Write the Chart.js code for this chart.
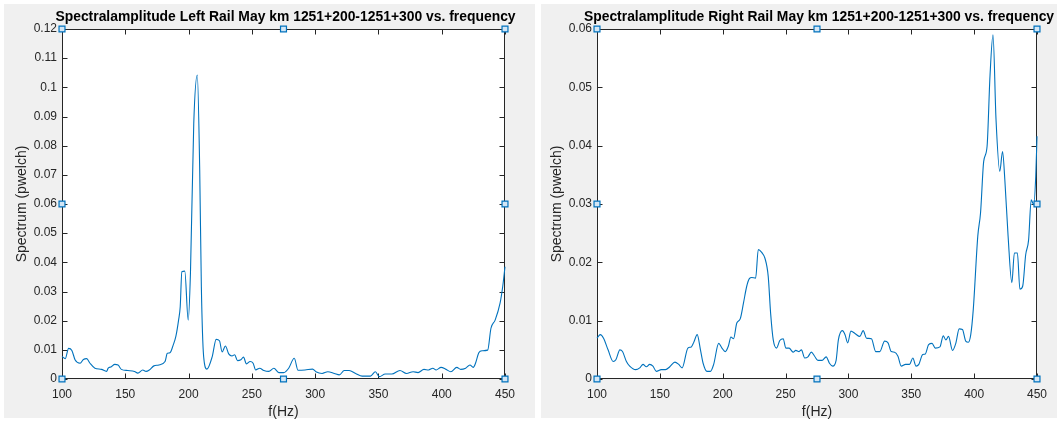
<!DOCTYPE html>
<html>
<head>
<meta charset="utf-8">
<title>Spectralamplitude May km 1251+200-1251+300</title>
<script src="https://cdn.jsdelivr.net/npm/chart.js@4.4.1/dist/chart.umd.min.js"></script>
<style>
  html, body { margin: 0; padding: 0; background: #fff; }
  body { width: 1057px; height: 423px; position: relative; overflow: hidden; }
  .panel { position: absolute; top: 4px; height: 414px; background: #f0f0f0; }
  .panel canvas { position: absolute; left: 0; top: 0; }
</style>
</head>
<body>
<div class="panel" style="left:4px;width:531px"><canvas id="left-rail" width="531" height="419"></canvas></div>
<div class="panel" style="left:541px;width:516px"><canvas id="right-rail" width="516" height="419"></canvas></div>
<script>
// pwelch spectra, left rail
const leftFreq = [100, 102.6, 105.2, 107.8, 110.4, 114.3, 116.9, 119.5, 122.1, 126, 131.2, 135.2, 136.5, 139, 141.7,
  144.3, 146.9, 152, 157.3, 159.9, 163.8, 166.4, 169, 172.6, 176.5, 181.4, 183.2, 185.3, 187.9, 190, 192.1, 193.4,
  194.7, 197, 199.7, 201.5, 204.1, 206.9, 208.8, 210.1, 211.9, 214.5, 218.7, 221.8, 224.4, 226.5, 229.1, 231.7,
  234.3, 236.4, 238.7, 241.3, 243.4, 245.7, 248.6, 251, 253, 256.2, 259.5, 263.4, 267.4, 271.3, 275.2, 279.1, 283.5,
  286.5, 292, 298, 300.6, 305.5, 310, 315.2, 319.1, 323, 326.9, 332, 337.2, 343.7, 347.6, 350.7, 355.4, 360.6,
  367, 372.2, 377.4, 381.3, 386, 389.6, 393, 395.6, 399.5, 403.4, 407.2, 411.9, 415, 418.9, 422.3, 424.9, 426.7,
  429.3, 431.9, 436.3, 438.9, 442.2, 446.1, 448.2, 450];
const leftAmp = [0.0077, 0.007, 0.0105, 0.0098, 0.0065, 0.0054, 0.0067, 0.007, 0.0054, 0.0037, 0.0033, 0.0026, 0.0037,
  0.0042, 0.005, 0.0048, 0.0033, 0.0029, 0.0026, 0.002, 0.0031, 0.0026, 0.0031, 0.0045, 0.0048, 0.006, 0.0088, 0.009,
  0.0117, 0.0147, 0.0202, 0.0248, 0.0368, 0.037, 0.0202, 0.0365, 0.0877, 0.1042, 0.0717, 0.0316, 0.0077, 0.0034,
  0.0077, 0.0136, 0.0131, 0.0093, 0.0113, 0.0086, 0.0079, 0.0083, 0.0063, 0.0066, 0.0075, 0.0052, 0.006, 0.0054,
  0.0031, 0.0037, 0.0029, 0.0026, 0.0037, 0.0022, 0.0022, 0.0037, 0.0071, 0.003, 0.0031, 0.0034, 0.0025, 0.0019,
  0.0025, 0.0019, 0.0014, 0.0029, 0.0029, 0.0019, 0.001, 0.001, 0.0025, 0.0008, 0.0017, 0.0017, 0.0029, 0.0019,
  0.0025, 0.0022, 0.0033, 0.0031, 0.0037, 0.0031, 0.004, 0.0033, 0.0025, 0.004, 0.0033, 0.0037, 0.0048, 0.004,
  0.0054, 0.009, 0.0097, 0.0099, 0.0174, 0.0202, 0.026, 0.0317, 0.0385];

// pwelch spectra, right rail
const rightFreq = [100, 102.6, 105.2, 108.8, 112.9, 115, 118.2, 120.3, 123.4, 126, 130.8, 134, 136.6, 139.3, 141.9,
  144.5, 147.2, 151.1, 154.5, 157.9, 162, 165, 167.7, 172.3, 175, 177, 179.7, 182.3, 184.4, 187.5, 190.2, 192.8,
  196.8, 199.4, 202, 204.6, 206.5, 208.6, 211.2, 213.9, 216.5, 219.1, 221.2, 223.1, 226.2, 228.3, 231, 233.6, 236.2,
  238.1, 240.2, 242.8, 245.4, 248.1, 250.2, 252.8, 256, 258.1, 260.7, 262.6, 265.2, 267.8, 270.5, 273.1, 275.7, 279,
  282.3, 284.9, 287.5, 290.2, 292, 295.2, 297.3, 299.4, 302, 305.2, 309.1, 311.7, 314.4, 318.3, 321.7, 324.9, 328.8,
  331.5, 334.1, 336.7, 339.4, 342, 345.4, 348.6, 351.2, 353.8, 356, 359.1, 361.2, 363.8, 366.5, 369.1, 372.8, 375.4,
  377.5, 379.6, 382.8, 385.4, 388.1, 390.7, 393.3, 395.4, 397.3, 399.3, 402.9, 405.1, 407.6, 410.3, 412.6, 415, 417.4,
  420.4, 422.6, 424.4, 427, 430, 432, 434.4, 436.4, 438.6, 441, 443.3, 445.4, 447.4, 449, 450];
const rightAmp = [0.007, 0.0076, 0.007, 0.005, 0.003, 0.0033, 0.005, 0.0047, 0.003, 0.0022, 0.0016, 0.0019, 0.0025,
  0.0021, 0.0025, 0.0022, 0.0013, 0.0016, 0.0016, 0.0021, 0.0029, 0.0025, 0.0019, 0.0053, 0.0055, 0.0063, 0.0076,
  0.005, 0.0027, 0.0013, 0.0013, 0.0025, 0.0061, 0.0053, 0.0047, 0.0057, 0.0072, 0.0069, 0.0096, 0.0103, 0.013,
  0.0159, 0.0172, 0.0174, 0.0173, 0.0222, 0.0217, 0.0207, 0.0176, 0.0113, 0.0067, 0.0053, 0.0066, 0.0069, 0.0053,
  0.0053, 0.0046, 0.0049, 0.0047, 0.005, 0.0036, 0.0038, 0.0046, 0.0039, 0.0032, 0.0032, 0.0038, 0.0027, 0.0022,
  0.0032, 0.0067, 0.0083, 0.0076, 0.0062, 0.0082, 0.0078, 0.0073, 0.0083, 0.007, 0.0069, 0.0047, 0.0047, 0.0065,
  0.0062, 0.0047, 0.0046, 0.0039, 0.0022, 0.0025, 0.0025, 0.0036, 0.0022, 0.0025, 0.0042, 0.0043, 0.0059, 0.0061,
  0.0053, 0.0055, 0.0074, 0.0067, 0.0073, 0.0049, 0.0061, 0.0086, 0.0085, 0.0065, 0.0063, 0.0076, 0.0119, 0.0245,
  0.0285, 0.0373, 0.0399, 0.0519, 0.059, 0.0445, 0.0356, 0.039, 0.0342, 0.0245, 0.0165, 0.0216, 0.0216, 0.0154,
  0.0159, 0.0213, 0.0238, 0.0307, 0.0299, 0.0347, 0.0416];

const xTicks = [100, 150, 200, 250, 300, 350, 400, 450];
const leftYTicks = [0, 0.01, 0.02, 0.03, 0.04, 0.05, 0.06, 0.07, 0.08, 0.09, 0.1, 0.11, 0.12];
const rightYTicks = [0, 0.01, 0.02, 0.03, 0.04, 0.05, 0.06];

// axes selection handles: corners, top/bottom middle, left/right middle
const handleX = [100, 275, 450];
const leftHandleY = [0, 0.06, 0.12];
const rightHandleY = [0, 0.03, 0.06];

const FONT = '"Liberation Sans", Arial, Helvetica, sans-serif';
Chart.defaults.font.family = FONT;
Chart.defaults.color = '#262626';

const AXIS = '#262626';
const LINE = '#0072BD';

// white axes face, a box with inward ticks on all four sides, and the
// bold title centred over the axes (not squeezed to the axes width)
const axesBox = {
  id: 'axesBox',
  beforeDatasetsDraw(chart) {
    const { ctx, chartArea: a, scales: { x, y } } = chart;
    const L = Math.round(a.left) + 0.5, R = Math.round(a.right) - 0.5;
    const T = Math.round(a.top) + 0.5, B = Math.round(a.bottom) - 0.5;
    const len = 5;
    ctx.save();
    ctx.fillStyle = '#fff';
    ctx.fillRect(L, T, R - L, B - T);
    ctx.strokeStyle = AXIS;
    ctx.lineWidth = 1;
    ctx.beginPath();
    ctx.rect(L, T, R - L, B - T);
    x.ticks.forEach(t => {
      const px = Math.round(x.getPixelForValue(t.value)) + 0.5;
      ctx.moveTo(px, B); ctx.lineTo(px, B - len);
      ctx.moveTo(px, T); ctx.lineTo(px, T + len);
    });
    y.ticks.forEach(t => {
      const py = Math.round(y.getPixelForValue(t.value)) + 0.5;
      ctx.moveTo(L, py); ctx.lineTo(L + len, py);
      ctx.moveTo(R, py); ctx.lineTo(R - len, py);
    });
    ctx.stroke();
    ctx.restore();
  },
  afterDraw(chart, args, opts) {
    const { ctx, chartArea: a } = chart;
    ctx.save();
    ctx.fillStyle = '#000';
    ctx.font = 'bold 13.9px ' + FONT;
    ctx.textAlign = 'center';
    ctx.textBaseline = 'middle';
    ctx.fillText(opts.title, (a.left + a.right) / 2 + 2, 13.5);
    ctx.restore();
  }
};

function handlePoints(ys) {
  const pts = [];
  ys.forEach((v, j) => handleX.forEach((f, i) => {
    if (!(i === 1 && j === 1)) pts.push({ x: f, y: v });
  }));
  return pts;
}

function spectrumPanel(id, title, freq, amp, yTicks, handleY, opts) {
  return new Chart(document.getElementById(id), {
    type: 'line',
    data: {
      datasets: [{
        data: handlePoints(handleY),
        showLine: false,
        pointStyle: 'rect',
        pointRadius: 4.2,
        pointBorderWidth: 1.2,
        pointBorderColor: LINE,
        pointBackgroundColor: '#d3e6f5',
        clip: false
      }, {
        data: freq.map((f, i) => ({ x: f, y: amp[i] })),
        borderColor: LINE,
        borderWidth: 1.1,
        pointRadius: 0,
        cubicInterpolationMode: 'monotone',
        clip: false
      }]
    },
    options: {
      responsive: false,
      animation: false,
      events: [],
      layout: { padding: { left: 0, right: opts.rightPad, top: 25, bottom: 0 } },
      plugins: {
        legend: { display: false },
        tooltip: { enabled: false },
        title: { display: false },
        axesBox: { title: title }
      },
      scales: {
        x: {
          type: 'linear',
          min: 100,
          max: 450,
          afterBuildTicks: s => { s.ticks = xTicks.map(v => ({ value: v })); },
          afterFit: s => { s.height = 44; },
          grid: { display: false, drawTicks: false },
          border: { display: false },
          ticks: { padding: 8, maxRotation: 0, autoSkip: false, font: { size: 12 } },
          title: { display: true, text: 'f(Hz)', font: { size: 14 }, padding: { top: 0, bottom: 2.6 } }
        },
        y: {
          min: 0,
          max: yTicks[yTicks.length - 1],
          afterBuildTicks: s => { s.ticks = yTicks.map(v => ({ value: v })); },
          afterFit: s => { s.width = opts.yWidth; },
          grid: { display: false, drawTicks: false },
          border: { display: false },
          ticks: { padding: 5, autoSkip: false, font: { size: 12 }, callback: v => String(+v.toFixed(2)) },
          title: { display: true, text: 'Spectrum (pwelch)', font: { size: 14 }, padding: { top: opts.yTitlePad, bottom: 0 } }
        }
      }
    },
    plugins: [axesBox]
  });
}

spectrumPanel('left-rail', 'Spectralamplitude Left Rail May km 1251+200-1251+300 vs. frequency',
  leftFreq, leftAmp, leftYTicks, leftHandleY, { yWidth: 58, rightPad: 30, yTitlePad: 9.6 });
spectrumPanel('right-rail', 'Spectralamplitude Right Rail May km 1251+200-1251+300 vs. frequency',
  rightFreq, rightAmp, rightYTicks, rightHandleY, { yWidth: 56, rightPad: 20, yTitlePad: 7.6 });
</script>
</body>
</html>
